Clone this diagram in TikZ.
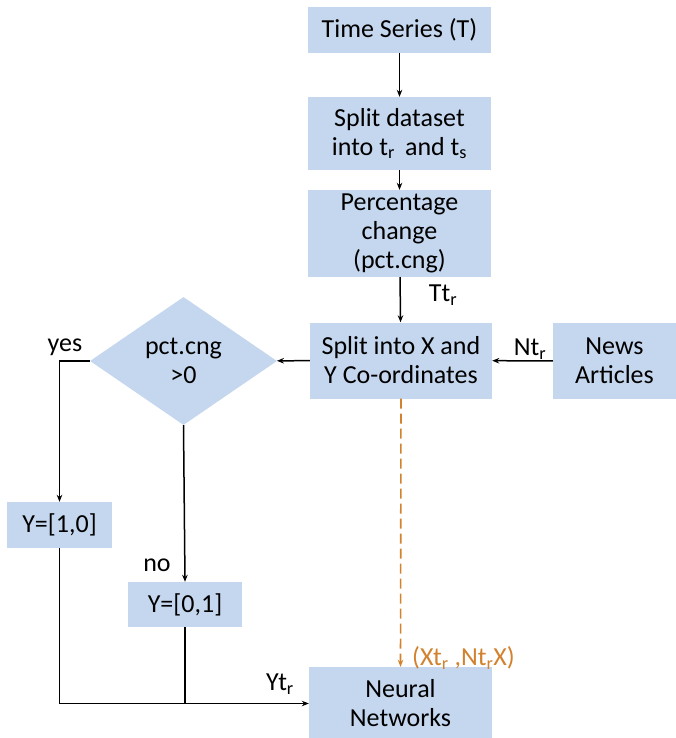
\documentclass[tikz,border=0pt]{standalone}
\usepackage{fontspec}
\setmainfont{Carlito}
\usetikzlibrary{shapes.geometric,arrows.meta}
\definecolor{boxblue}{HTML}{C5D7EE}
\definecolor{flowor}{HTML}{D2822E}
\begin{document}
\begin{tikzpicture}[x=1pt,y=-1pt,
  every node/.style={font=\fontsize{26}{29}\selectfont},
  procbox/.style={fill=boxblue,inner sep=0pt,align=center,anchor=center},
  decbox/.style={diamond,fill=boxblue,inner sep=0pt,align=center,aspect=1.46},
  flow/.style={line width=1.5pt,-{Stealth[length=7pt,width=5.5pt]}},
  plain/.style={line width=1.5pt},
  dataflow/.style={line width=1.6pt,flowor,dash pattern=on 10pt off 5pt,-{Stealth[length=7pt,width=5.5pt]}},
  lbl/.style={inner sep=0pt}]
\useasboundingbox (0,0) rectangle (676,738);

% process boxes
\node[procbox,minimum width=183,minimum height=46] (ts) at (399.5,30) {Time Series (T)};
\node[procbox,minimum width=183,minimum height=73] (split) at (399.5,133.5) {Split dataset\\into t\textsubscript{r}\, and t\textsubscript{s}};
\node[procbox,minimum width=183,minimum height=87] (pct) at (399.5,233.5) {Percentage\\change\\(pct.cng)};
\node[procbox,minimum width=182,minimum height=76] (xy) at (401,360.5) {Split into X and\\Y Co-ordinates};
\node[procbox,minimum width=123,minimum height=76] (news) at (614.5,361) {News\\Articles};
\node[decbox,minimum width=187,minimum height=128] (dec) at (183.5,361) {pct.cng\\>0};
\node[procbox,minimum width=105,minimum height=46] (y10) at (59.5,525) {Y=[1,0]};
\node[procbox,minimum width=114,minimum height=45] (y01) at (185,604.5) {Y=[0,1]};
\node[procbox,minimum width=183,minimum height=73] (nn) at (400.5,703.5) {Neural\\Networks};

% connectors
\draw[flow] (ts) -- (split);
\draw[flow] (split) -- (pct);
\draw[flow] (pct) -- (xy);
\draw[flow] (news) -- (xy);
\draw[flow] (xy) -- (dec);
\draw[flow] (dec.west) -| (y10.north);
\draw[flow] (dec.south) -- (y01.north);
\coordinate (joinpt) at (y01.south |- nn.west);
\draw[flow] (y10.south) |- (nn.west);
\draw[plain] (y01.south) -- (joinpt);
\draw[dataflow] (xy.south) -- (nn.north);

% edge labels
\node[lbl] (lyes) at (65,347) {yes};
\node[lbl] (lno) at (157,565) {no};
\node[lbl] (ltt) at (443,295) {Tt\textsubscript{r}};
\node[lbl] (lnt) at (530,349) {Nt\textsubscript{r}};
\node[lbl] (lyt) at (280,684) {Yt\textsubscript{r}};
\node[lbl,anchor=west,text=flowor] (lxn) at (412,658) {(Xt\textsubscript{r} ,Nt\textsubscript{r}X)};
\end{tikzpicture}
\end{document}
